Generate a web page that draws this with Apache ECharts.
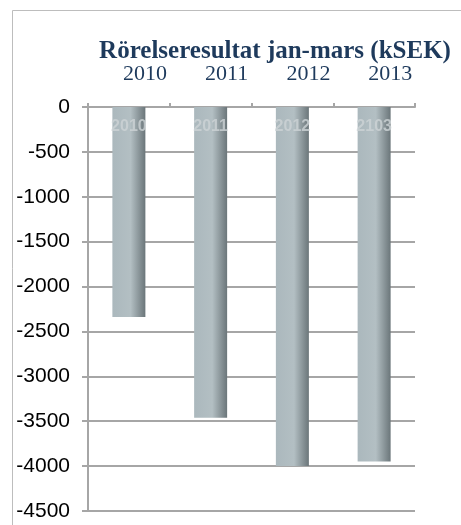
<!DOCTYPE html>
<html>
<head>
<meta charset="utf-8">
<script src="https://cdn.jsdelivr.net/npm/echarts@6/dist/echarts.min.js"></script>
<style>
  html, body { margin: 0; padding: 0; background: #fff; }
  #chart { width: 461px; height: 525px; }
</style>
</head>
<body>
<div id="chart"></div>
<script>
// chart data
const years = ['2010', '2011', '2012', '2013']
const barTexts = ['2010', '2011', '2012', '2103']
const result = [-2340, -3460, -4000, -3950]

const chart = echarts.init(document.getElementById('chart'))

chart.setOption({
  backgroundColor: '#fff',
  animation: false,
  title: {
    text: 'Rörelseresultat jan-mars (kSEK)',
    left: 270,
    textAlign: 'center',
    top: 34,
    textStyle: {
      fontFamily: 'Liberation Serif',
      fontWeight: 'bold',
      fontSize: 25,
      color: '#1e3a5c'
    }
  },
  graphic: [
    {
      type: 'polyline',
      shape: { points: [[12.5, 530], [12.5, 10.5], [470, 10.5]] },
      style: { stroke: '#bdbdbd', lineWidth: 1, fill: null }
    }
  ],
  grid: {
    left: 88,
    right: 46,
    top: 107,
    bottom: 14,
    containLabel: false
  },
  xAxis: {
    type: 'category',
    position: 'top',
    data: years,
    axisLine: { show: true, lineStyle: { color: '#a6a6a6', width: 2 } },
    axisTick: { show: true, length: 4, lineStyle: { color: '#a6a6a6', width: 2 } },
    axisLabel: {
      margin: 22,
      padding: [0, 0, 0, 32],
      fontFamily: 'Liberation Serif',
      fontSize: 22,
      color: '#1e3a5c'
    }
  },
  yAxis: {
    type: 'value',
    min: -4500,
    max: 0,
    interval: 500,
    axisLine: { show: true, lineStyle: { color: '#a6a6a6', width: 2 } },
    axisTick: { show: true, length: 6, lineStyle: { color: '#a6a6a6', width: 2 } },
    splitLine: { lineStyle: { color: '#a6a6a6', width: 2 } },
    axisLabel: {
      margin: 18,
      formatter: (v) => String(v),
      fontFamily: 'Liberation Sans',
      fontSize: 21,
      color: '#000'
    }
  },
  series: [
    {
      type: 'bar',
      data: result,
      barWidth: 33,
      itemStyle: {
        color: new echarts.graphic.LinearGradient(0, 0, 1, 0, [
          { offset: 0, color: '#abb8bd' },
          { offset: 0.55, color: '#b3bfc3' },
          { offset: 1, color: '#6b767a' }
        ])
      },
      label: {
        show: true,
        position: 'insideTop',
        distance: 12,
        formatter: (p) => barTexts[p.dataIndex],
        fontFamily: 'Liberation Sans',
        fontWeight: 'bold',
        fontSize: 16,
        color: 'rgba(205,211,214,0.8)'
      }
    }
  ]
})
</script>
</body>
</html>
